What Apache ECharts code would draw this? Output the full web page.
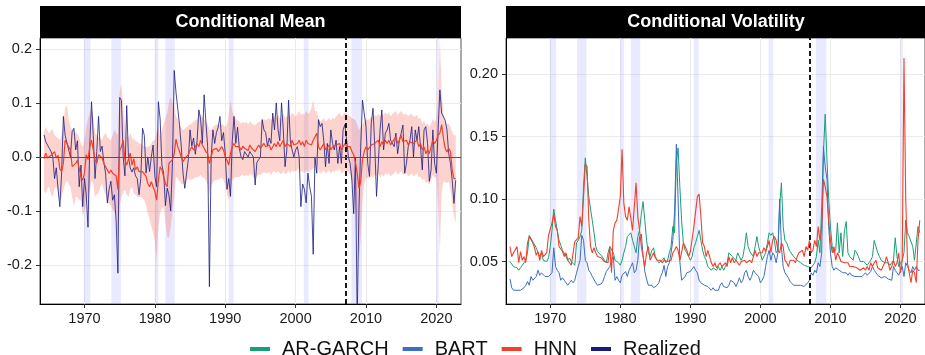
<!DOCTYPE html>
<html>
<head>
<meta charset="utf-8">
<title>Conditional Mean / Conditional Volatility</title>
<script src="https://cdn.jsdelivr.net/npm/echarts@6.0.0/dist/echarts.min.js"></script>
<style>
  html, body { margin: 0; padding: 0; background: #fff; }
  #chart { width: 925px; height: 355px; }
</style>
</head>
<body>
<div id="chart"></div>
<script>
// quarterly observations, first one at 1964.25
const firstQuarter = 1964.25;
const yearTicks = [1970, 1980, 1990, 2000, 2010, 2020];
const meanTicks = [-0.2, -0.1, 0, 0.1, 0.2];
const volTicks = [0.05, 0.10, 0.15, 0.20];
const splitYear = 2007.1;
const recessions = [
  [1969.92, 1970.83], [1973.83, 1975.17], [1980.0, 1980.5], [1981.5, 1982.83],
  [1990.5, 1991.17], [2001.17, 2001.83], [2007.92, 2009.42], [2020.0, 2020.33]
];

// Conditional mean panel
const realized = [
  0.041, 0.028, 0.022,
  0.016, 0.010, 0.000, -0.040,
  -0.020, -0.060, -0.092, -0.030,
  0.075, 0.040, 0.038, 0.013,
  0.000, 0.047, 0.053, 0.013,
  0.030, -0.055, -0.015, -0.092,
  -0.040, -0.070, -0.130, 0.020,
  0.102, 0.040, -0.040, 0.010,
  0.075, 0.010, 0.020, -0.010,
  -0.030, -0.085, -0.060, -0.045,
  -0.080, -0.070, -0.120, -0.215,
  0.110, 0.105, 0.000, -0.035,
  0.095, 0.000, -0.020, -0.028,
  -0.020, -0.035, -0.040, -0.070,
  -0.040, 0.053, 0.040, -0.030,
  0.000, -0.027, 0.000, 0.022,
  -0.036, -0.055, 0.102, 0.070,
  -0.015, -0.030, -0.090, -0.058,
  -0.070, -0.100, -0.010, 0.160,
  0.120, 0.090, 0.060, 0.020,
  -0.030, -0.058, -0.055, -0.005,
  0.050, 0.020, 0.035, 0.005,
  0.030, 0.087, 0.070, 0.025,
  0.115, 0.065, 0.020, -0.240,
  0.000, 0.050, 0.025, 0.045,
  0.055, 0.075, 0.030, 0.045,
  0.006, -0.060, -0.040, -0.073,
  0.030, 0.075, 0.025, 0.055,
  0.016, 0.000, -0.005, 0.010,
  0.013, 0.000, 0.010, 0.005,
  0.000, -0.052, -0.010, -0.005,
  0.000, 0.069, 0.050, 0.045,
  0.020, 0.035, 0.025, 0.081,
  0.050, 0.100, 0.050, 0.030,
  0.100, 0.050, -0.018, 0.013,
  0.105, 0.030, 0.013, 0.000,
  0.013, 0.019, 0.000, -0.092,
  -0.050, -0.060, -0.085, -0.030,
  -0.055, -0.073, -0.180, 0.000,
  -0.030, 0.069, 0.056, 0.062,
  0.030, -0.018, 0.025, -0.012,
  0.050, 0.025, 0.013, 0.031,
  -0.012, 0.019, -0.012, 0.050,
  0.060, 0.031, 0.000, -0.012,
  -0.043, -0.105, 0.000, -0.300,
  -0.098, 0.019, 0.105, 0.102,
  0.056, -0.012, -0.036, 0.062,
  0.090, 0.019, -0.073, -0.012,
  0.050, 0.087, 0.013, 0.044,
  0.050, 0.062, 0.031, 0.031,
  0.019, 0.044, 0.006, 0.031,
  0.044, 0.059, -0.030, -0.012,
  0.019, 0.031, 0.056, 0.000,
  0.050, 0.031, 0.056, 0.019,
  -0.024, 0.050, 0.056, 0.025,
  -0.045, -0.024, 0.050, -0.012,
  -0.030, 0.050, 0.124, 0.081,
  0.080, 0.068, 0.050, 0.007,
  -0.012, -0.043, -0.086, -0.043
];
const hnnMean = [
  -0.003, 0.007, -0.002,
  0.000, 0.003, 0.000, 0.010,
  -0.002, 0.003, -0.022, -0.027,
  -0.012, 0.031, 0.025, 0.019,
  0.013, -0.018, -0.018, -0.012,
  -0.006, -0.021, -0.036, -0.043,
  -0.030, 0.004, -0.005, 0.019,
  0.031, 0.031, -0.005, -0.012,
  0.004, 0.006, -0.002, -0.012,
  -0.009, -0.024, -0.030, -0.024,
  -0.030, -0.030, -0.035, -0.060,
  0.012, 0.019, 0.031, -0.005,
  -0.015, -0.018, 0.007, -0.015,
  -0.003, -0.024, -0.018, -0.027,
  -0.030, -0.027, -0.027, -0.036,
  -0.049, -0.055, -0.046, -0.055,
  -0.064, -0.080, -0.043, -0.018,
  -0.024, -0.024, -0.049, -0.055,
  -0.012, -0.009, -0.005, 0.006,
  0.033, 0.019, 0.010, 0.000,
  -0.009, -0.003, 0.000, 0.004,
  0.013, 0.019, 0.013, 0.019,
  0.025, 0.019, 0.031, 0.022,
  0.019, 0.010, 0.006, -0.012,
  0.000, 0.013, 0.010, 0.016,
  0.010, 0.007, 0.019, 0.013,
  0.000, -0.006, -0.015, 0.007,
  0.019, 0.025, 0.019, 0.016,
  0.019, 0.013, 0.020, 0.016,
  0.019, 0.012, 0.022, 0.016,
  0.019, 0.010, 0.013, 0.022,
  0.016, 0.019, 0.025, 0.019,
  0.016, 0.022, 0.013, 0.019,
  0.025, 0.019, 0.028, 0.019,
  0.022, 0.031, 0.019, 0.025,
  0.028, 0.019, 0.031, 0.022,
  0.019, 0.025, 0.031, 0.022,
  0.028, 0.019, 0.031, 0.025,
  0.028, 0.022, 0.031, 0.028,
  0.044, 0.019, 0.013, 0.019,
  0.025, 0.013, 0.016, 0.022,
  0.013, 0.019, 0.016, 0.022,
  0.019, 0.025, 0.013, 0.019,
  0.025, 0.019, 0.016, 0.019,
  0.010, 0.004, -0.010, -0.030,
  -0.058, -0.045, -0.005, 0.010,
  0.019, 0.013, 0.016, 0.022,
  0.019, 0.025, 0.022, 0.031,
  0.019, 0.028, 0.022, 0.031,
  0.025, 0.031, 0.022, 0.028,
  0.031, 0.037, 0.025, 0.031,
  0.040, 0.028, 0.028, 0.031,
  0.022, 0.028, 0.031, 0.025,
  0.028, 0.031, 0.019, 0.025,
  0.013, 0.019, 0.006, 0.013,
  0.006, 0.019, 0.031, 0.025,
  0.031, 0.040, 0.044, 0.060,
  0.035, 0.016, 0.009, 0.016,
  0.010, -0.024, -0.040, -0.040
];
const bandHi = [
  0.045, 0.056, 0.048,
  0.044, 0.050, 0.050, 0.040,
  0.037, 0.035, 0.031, 0.040,
  0.062, 0.090, 0.096, 0.070,
  0.056, 0.050, 0.050, 0.044,
  0.044, 0.035, 0.025, 0.019,
  0.030, 0.056, 0.070, 0.081,
  0.090, 0.075, 0.044, 0.040,
  0.037, 0.035, 0.031, 0.040,
  0.044, 0.037, 0.033, 0.031,
  0.040, 0.050, 0.045, 0.040,
  0.120, 0.136, 0.093, 0.060,
  0.037, 0.035, 0.045, 0.035,
  0.033, 0.030, 0.028, 0.025,
  0.025, 0.022, 0.020, 0.019,
  0.019, 0.020, 0.025, 0.031,
  0.031, 0.045, 0.056, 0.037,
  0.050, 0.062, 0.070, 0.081,
  0.100, 0.111, 0.100, 0.093,
  0.075, 0.070, 0.060, 0.055,
  0.050, 0.052, 0.055, 0.058,
  0.060, 0.062, 0.065, 0.068,
  0.070, 0.075, 0.080, 0.075,
  0.070, 0.065, 0.060, 0.050,
  0.050, 0.055, 0.058, 0.060,
  0.060, 0.058, 0.062, 0.058,
  0.055, 0.060, 0.080, 0.105,
  0.085, 0.075, 0.070, 0.068,
  0.065, 0.062, 0.065, 0.062,
  0.065, 0.060, 0.065, 0.062,
  0.060, 0.058, 0.062, 0.065,
  0.065, 0.068, 0.070, 0.068,
  0.070, 0.072, 0.068, 0.072,
  0.075, 0.072, 0.078, 0.072,
  0.070, 0.080, 0.072, 0.075,
  0.080, 0.075, 0.082, 0.078,
  0.075, 0.080, 0.085, 0.078,
  0.080, 0.078, 0.085, 0.080,
  0.082, 0.090, 0.105, 0.085,
  0.085, 0.070, 0.065, 0.068,
  0.072, 0.065, 0.068, 0.072,
  0.068, 0.072, 0.070, 0.075,
  0.078, 0.082, 0.075, 0.078,
  0.082, 0.080, 0.078, 0.075,
  0.072, 0.070, 0.068, 0.060,
  0.050, 0.055, 0.060, 0.065,
  0.070, 0.068, 0.070, 0.075,
  0.072, 0.078, 0.075, 0.080,
  0.075, 0.080, 0.078, 0.082,
  0.078, 0.082, 0.075, 0.080,
  0.082, 0.085, 0.078, 0.082,
  0.085, 0.080, 0.078, 0.080,
  0.075, 0.078, 0.080, 0.075,
  0.075, 0.078, 0.070, 0.072,
  0.062, 0.068, 0.058, 0.062,
  0.055, 0.062, 0.070, 0.065,
  0.070, 0.110, 0.220, 0.120,
  0.080, 0.065, 0.060, 0.062,
  0.055, 0.045, 0.040, 0.040
];
const bandLo = [
  -0.062, -0.068, -0.058,
  -0.055, -0.070, -0.073, -0.058,
  -0.055, -0.065, -0.080, -0.075,
  -0.061, -0.050, -0.043, -0.050,
  -0.055, -0.075, -0.092, -0.074,
  -0.074, -0.080, -0.080, -0.110,
  -0.100, -0.086, -0.070, -0.061,
  -0.043, -0.050, -0.074, -0.070,
  -0.067, -0.055, -0.049, -0.061,
  -0.070, -0.086, -0.086, -0.090,
  -0.098, -0.100, -0.110, -0.155,
  -0.090, -0.074, -0.065, -0.061,
  -0.070, -0.074, -0.060, -0.055,
  -0.067, -0.070, -0.074, -0.074,
  -0.074, -0.077, -0.080, -0.090,
  -0.104, -0.115, -0.129, -0.140,
  -0.154, -0.190, -0.130, -0.104,
  -0.095, -0.092, -0.120, -0.148,
  -0.150, -0.129, -0.100, -0.074,
  -0.037, -0.040, -0.045, -0.050,
  -0.050, -0.048, -0.045, -0.040,
  -0.042, -0.043, -0.040, -0.038,
  -0.038, -0.036, -0.033, -0.038,
  -0.038, -0.043, -0.052, -0.070,
  -0.052, -0.048, -0.043, -0.042,
  -0.042, -0.040, -0.038, -0.043,
  -0.052, -0.066, -0.080, -0.066,
  -0.043, -0.038, -0.038, -0.037,
  -0.037, -0.035, -0.033, -0.036,
  -0.033, -0.036, -0.030, -0.033,
  -0.038, -0.040, -0.036, -0.033,
  -0.033, -0.030, -0.028, -0.030,
  -0.030, -0.028, -0.033, -0.028,
  -0.026, -0.030, -0.026, -0.030,
  -0.032, -0.026, -0.032, -0.030,
  -0.025, -0.030, -0.025, -0.027,
  -0.026, -0.024, -0.021, -0.028,
  -0.026, -0.031, -0.024, -0.028,
  -0.026, -0.024, -0.021, -0.020,
  -0.010, -0.026, -0.031, -0.028,
  -0.024, -0.031, -0.028, -0.024,
  -0.031, -0.026, -0.028, -0.024,
  -0.026, -0.021, -0.031, -0.028,
  -0.024, -0.026, -0.028, -0.031,
  -0.045, -0.065, -0.095, -0.125,
  -0.190, -0.150, -0.085, -0.050,
  -0.038, -0.040, -0.038, -0.036,
  -0.038, -0.033, -0.036, -0.030,
  -0.038, -0.033, -0.036, -0.030,
  -0.033, -0.030, -0.036, -0.033,
  -0.030, -0.026, -0.033, -0.030,
  -0.026, -0.033, -0.033, -0.030,
  -0.036, -0.033, -0.030, -0.036,
  -0.033, -0.030, -0.038, -0.036,
  -0.043, -0.040, -0.048, -0.046,
  -0.052, -0.043, -0.033, -0.038,
  -0.038, -0.085, -0.178, -0.065,
  -0.046, -0.046, -0.048, -0.046,
  -0.060, -0.085, -0.110, -0.122
];

// Conditional volatility panel
const garchVol = [
  0.050, 0.049, 0.046,
  0.046, 0.045, 0.043, 0.045,
  0.046, 0.049, 0.051, 0.057,
  0.071, 0.070, 0.066, 0.065,
  0.061, 0.057, 0.054, 0.057,
  0.051, 0.050, 0.050, 0.053,
  0.062, 0.075, 0.092, 0.083,
  0.075, 0.067, 0.063, 0.059,
  0.058, 0.054, 0.051, 0.053,
  0.050, 0.049, 0.047, 0.065,
  0.067, 0.070, 0.075, 0.110,
  0.133, 0.118, 0.102, 0.092,
  0.083, 0.073, 0.062, 0.058,
  0.057, 0.055, 0.054, 0.051,
  0.049, 0.057, 0.062, 0.063,
  0.057, 0.051, 0.051, 0.049,
  0.047, 0.051, 0.057, 0.062,
  0.070, 0.071, 0.073, 0.067,
  0.062, 0.057, 0.070, 0.075,
  0.088, 0.098, 0.083, 0.067,
  0.057, 0.054, 0.059, 0.061,
  0.054, 0.051, 0.049, 0.050,
  0.051, 0.053, 0.049, 0.051,
  0.057, 0.062, 0.078, 0.073,
  0.130, 0.141, 0.110, 0.083,
  0.065, 0.059, 0.057, 0.054,
  0.051, 0.054, 0.061, 0.065,
  0.070, 0.075, 0.067, 0.059,
  0.054, 0.051, 0.046, 0.045,
  0.043, 0.045, 0.044, 0.043,
  0.046, 0.043, 0.046, 0.043,
  0.046, 0.049, 0.057, 0.058,
  0.054, 0.055, 0.051, 0.057,
  0.058, 0.051, 0.054, 0.062,
  0.073, 0.062, 0.058, 0.057,
  0.054, 0.062, 0.070, 0.062,
  0.057, 0.051, 0.050, 0.057,
  0.065, 0.073, 0.071, 0.073,
  0.067, 0.057, 0.059, 0.095,
  0.113, 0.078, 0.067, 0.065,
  0.061, 0.058, 0.057, 0.054,
  0.053, 0.051, 0.050, 0.049,
  0.048, 0.047, 0.047, 0.046,
  0.046, 0.045, 0.046, 0.049,
  0.054, 0.067, 0.057, 0.094,
  0.137, 0.168, 0.132, 0.100,
  0.078, 0.062, 0.057, 0.059,
  0.081, 0.057, 0.073, 0.054,
  0.075, 0.082, 0.057, 0.054,
  0.054, 0.051, 0.059, 0.057,
  0.054, 0.050, 0.051, 0.050,
  0.049, 0.047, 0.046, 0.051,
  0.054, 0.067, 0.062, 0.057,
  0.054, 0.051, 0.050, 0.049,
  0.050, 0.049, 0.047, 0.049,
  0.051, 0.069, 0.054, 0.046,
  0.049, 0.051, 0.057, 0.083,
  0.073, 0.070, 0.069, 0.062,
  0.051, 0.051, 0.078, 0.073
];
const bartVol = [
  0.036, 0.029, 0.027,
  0.027, 0.027, 0.026, 0.027,
  0.027, 0.029, 0.031, 0.034,
  0.031, 0.038, 0.035, 0.034,
  0.038, 0.043, 0.039, 0.041,
  0.041, 0.038, 0.039, 0.038,
  0.037, 0.041, 0.061, 0.046,
  0.043, 0.041, 0.035, 0.037,
  0.035, 0.033, 0.031, 0.033,
  0.035, 0.033, 0.035, 0.041,
  0.046, 0.051, 0.071, 0.067,
  0.051, 0.049, 0.043, 0.041,
  0.038, 0.037, 0.033, 0.031,
  0.031, 0.032, 0.034, 0.038,
  0.042, 0.042, 0.046, 0.051,
  0.054, 0.035, 0.038, 0.035,
  0.033, 0.039, 0.038, 0.042,
  0.038, 0.043, 0.046, 0.049,
  0.041, 0.043, 0.051, 0.070,
  0.072, 0.055, 0.042, 0.036,
  0.031, 0.030, 0.031, 0.029,
  0.030, 0.031, 0.033, 0.038,
  0.041, 0.047, 0.038, 0.046,
  0.049, 0.057, 0.067, 0.090,
  0.144, 0.100, 0.050, 0.035,
  0.034, 0.038, 0.041, 0.041,
  0.042, 0.043, 0.046, 0.043,
  0.041, 0.035, 0.033, 0.033,
  0.031, 0.030, 0.030, 0.029,
  0.027, 0.029, 0.027, 0.027,
  0.027, 0.031, 0.033, 0.030,
  0.030, 0.029, 0.031, 0.035,
  0.034, 0.033, 0.030, 0.033,
  0.037, 0.033, 0.035, 0.041,
  0.043, 0.038, 0.035, 0.038,
  0.043, 0.041, 0.042, 0.038,
  0.033, 0.035, 0.038, 0.046,
  0.054, 0.059, 0.051, 0.057,
  0.055, 0.049, 0.057, 0.100,
  0.062, 0.046, 0.041, 0.039,
  0.037, 0.034, 0.033, 0.031,
  0.030, 0.031, 0.030, 0.031,
  0.031, 0.030, 0.031, 0.033,
  0.035, 0.041, 0.039, 0.043,
  0.041, 0.049, 0.046, 0.057,
  0.142, 0.126, 0.116, 0.078,
  0.057, 0.046, 0.043, 0.045,
  0.046, 0.043, 0.042, 0.041,
  0.042, 0.041, 0.039, 0.041,
  0.039, 0.038, 0.038, 0.039,
  0.038, 0.037, 0.038, 0.037,
  0.041, 0.039, 0.038, 0.042,
  0.046, 0.043, 0.041, 0.039,
  0.038, 0.037, 0.037, 0.038,
  0.037, 0.036, 0.037, 0.035,
  0.046, 0.043, 0.041, 0.039,
  0.043, 0.046, 0.038, 0.049,
  0.046, 0.043, 0.041, 0.046,
  0.043, 0.046, 0.043, 0.043
];
const hnnVol = [
  0.062, 0.054, 0.057,
  0.058, 0.062, 0.049, 0.058,
  0.051, 0.054, 0.049, 0.065,
  0.070, 0.069, 0.065, 0.061,
  0.055, 0.058, 0.051, 0.059,
  0.054, 0.053, 0.057, 0.071,
  0.071, 0.081, 0.088, 0.078,
  0.075, 0.062, 0.063, 0.058,
  0.054, 0.057, 0.051, 0.049,
  0.047, 0.046, 0.066, 0.067,
  0.069, 0.086, 0.078, 0.102,
  0.128, 0.126, 0.083, 0.062,
  0.057, 0.061, 0.057, 0.054,
  0.055, 0.053, 0.054, 0.050,
  0.051, 0.049, 0.062, 0.041,
  0.075, 0.081, 0.083, 0.092,
  0.102, 0.140, 0.097, 0.086,
  0.083, 0.094, 0.093, 0.075,
  0.094, 0.113, 0.086, 0.075,
  0.062, 0.054, 0.046, 0.057,
  0.062, 0.051, 0.054, 0.057,
  0.053, 0.051, 0.050, 0.051,
  0.049, 0.051, 0.051, 0.050,
  0.051, 0.051, 0.057, 0.059,
  0.062, 0.059, 0.051, 0.057,
  0.065, 0.062, 0.059, 0.054,
  0.058, 0.057, 0.078, 0.078,
  0.102, 0.104, 0.086, 0.065,
  0.062, 0.054, 0.059, 0.054,
  0.049, 0.046, 0.049, 0.045,
  0.046, 0.049, 0.046, 0.045,
  0.049, 0.046, 0.054, 0.049,
  0.053, 0.049, 0.051, 0.049,
  0.047, 0.050, 0.049, 0.051,
  0.049, 0.050, 0.051, 0.049,
  0.054, 0.059, 0.054, 0.057,
  0.058, 0.057, 0.061, 0.058,
  0.062, 0.067, 0.057, 0.067,
  0.070, 0.067, 0.059, 0.057,
  0.065, 0.062, 0.051, 0.049,
  0.046, 0.051, 0.050, 0.051,
  0.049, 0.054, 0.057, 0.057,
  0.059, 0.054, 0.062, 0.059,
  0.067, 0.057, 0.059, 0.067,
  0.062, 0.078, 0.067, 0.078,
  0.116, 0.110, 0.102, 0.083,
  0.067, 0.057, 0.062, 0.051,
  0.057, 0.054, 0.050, 0.051,
  0.049, 0.050, 0.049, 0.046,
  0.047, 0.046, 0.045, 0.045,
  0.044, 0.043, 0.043, 0.045,
  0.043, 0.046, 0.043, 0.049,
  0.046, 0.049, 0.051, 0.045,
  0.046, 0.043, 0.042, 0.049,
  0.054, 0.049, 0.043, 0.046,
  0.051, 0.046, 0.049, 0.057,
  0.041, 0.051, 0.213, 0.100,
  0.049, 0.041, 0.033, 0.043,
  0.041, 0.033, 0.067, 0.083
];

const dates = realized.map((_, i) => firstQuarter + i * 0.25);
const pairs = arr => arr.map((v, i) => [dates[i], v]);

const font = '"Liberation Sans", Arial, Helvetica, sans-serif';
const colors = { garch: '#17a077', bart: '#3b6fc3', hnn: '#f43f2b', realized: '#1b1b7d' };

function xAxisFor(gridIndex) {
  return {
    type: 'value', gridIndex: gridIndex, min: 1963.68, max: 2023.5,
    axisLine: { show: true, onZero: false, lineStyle: { color: '#000', width: 1 } },
    axisTick: { show: true, length: 4, customValues: yearTicks, lineStyle: { color: '#333' } },
    axisLabel: { customValues: yearTicks, formatter: v => String(Math.round(v)), color: '#1a1a1a',
      fontSize: 14.5, margin: 7, fontFamily: font },
    splitLine: { show: true, lineStyle: { color: '#ebebeb', width: 1 } }
  };
}
function yAxisFor(gridIndex, min, max, ticks, digits) {
  return {
    type: 'value', gridIndex: gridIndex, min: min, max: max,
    axisLine: { show: true, onZero: false, lineStyle: { color: '#000', width: 1 } },
    axisTick: { show: true, length: 4, customValues: ticks, lineStyle: { color: '#333' } },
    axisLabel: { customValues: ticks, formatter: v => v.toFixed(digits), color: '#1a1a1a',
      fontSize: 14.5, margin: 8, fontFamily: font },
    splitLine: { show: true, lineStyle: { color: '#ebebeb', width: 1 } }
  };
}
function recessionSeries(idx) {
  return {
    type: 'custom', xAxisIndex: idx, yAxisIndex: idx, silent: true, z: 1,
    data: recessions,
    renderItem: function (params, api) {
      const cs = params.coordSys;
      const x0 = api.coord([api.value(0), 0])[0];
      const x1 = api.coord([api.value(1), 0])[0];
      return { type: 'rect', shape: { x: x0, y: cs.y, width: x1 - x0, height: cs.height },
        style: { fill: 'rgba(120,120,255,0.16)' } };
    }
  };
}
function lineSeries(name, values, color, width, idx, z) {
  return {
    name: name, type: 'line', xAxisIndex: idx, yAxisIndex: idx, data: pairs(values),
    showSymbol: false, symbol: 'none', color: color, z: z,
    lineStyle: { color: color, width: width }, emphasis: { disabled: true }
  };
}
const dashed = { xAxis: splitYear, lineStyle: { color: '#000', type: [5, 3], width: 1.8 } };

const realizedSeries = lineSeries('Realized', realized, colors.realized, 0.8, 0, 3);
realizedSeries.markLine = {
  silent: true, symbol: 'none', label: { show: false }, animation: false,
  data: [dashed, { yAxis: 0, lineStyle: { color: '#555', type: 'solid', width: 1 } }]
};
const garchSeries = lineSeries('AR-GARCH', garchVol, colors.garch, 1, 1, 3);
garchSeries.markLine = {
  silent: true, symbol: 'none', label: { show: false }, animation: false, data: [dashed]
};

const option = {
  animation: false,
  backgroundColor: '#fff',
  grid: [
    { left: 40, top: 38, width: 421, height: 266, show: true, borderColor: '#555', borderWidth: 1 },
    { left: 506, top: 38, width: 421, height: 266, show: true, borderColor: '#555', borderWidth: 1 }
  ],
  xAxis: [xAxisFor(0), xAxisFor(1)],
  yAxis: [
    yAxisFor(0, -0.272, 0.22, meanTicks, 1),
    yAxisFor(1, 0.016, 0.229, volTicks, 2)
  ],
  graphic: [
    { type: 'rect', shape: { x: 40, y: 6, width: 421, height: 32 }, style: { fill: '#000' } },
    { type: 'text', x: 250.5, y: 22, style: { text: 'Conditional Mean', fill: '#fff',
      font: 'bold 18px ' + font, align: 'center', verticalAlign: 'middle' } },
    { type: 'rect', shape: { x: 506, y: 6, width: 421, height: 32 }, style: { fill: '#000' } },
    { type: 'text', x: 716, y: 22, style: { text: 'Conditional Volatility', fill: '#fff',
      font: 'bold 18px ' + font, align: 'center', verticalAlign: 'middle' } }
  ],
  legend: {
    data: ['AR-GARCH', 'BART', 'HNN', 'Realized'],
    left: 245, top: 334, icon: 'rect', itemWidth: 20, itemHeight: 4, itemGap: 14,
    selectedMode: false,
    textStyle: { fontSize: 20, color: '#111', fontFamily: font, padding: [0, 0, 0, 7] }
  },
  series: [
    recessionSeries(0),
    {
      type: 'custom', xAxisIndex: 0, yAxisIndex: 0, silent: true, z: 2,
      data: [[dates[0], 0]],
      renderItem: function (params, api) {
        const pts = [];
        for (let i = 0; i < dates.length; i++) pts.push(api.coord([dates[i], bandHi[i]]));
        for (let i = dates.length - 1; i >= 0; i--) pts.push(api.coord([dates[i], bandLo[i]]));
        return { type: 'polygon', shape: { points: pts }, style: { fill: 'rgba(244,80,60,0.25)' } };
      }
    },
    realizedSeries,
    lineSeries('HNN', hnnMean, colors.hnn, 1.2, 0, 4),
    recessionSeries(1),
    garchSeries,
    lineSeries('BART', bartVol, colors.bart, 1, 1, 4),
    lineSeries('HNN', hnnVol, colors.hnn, 1.1, 1, 5)
  ]
};

const chart = echarts.init(document.getElementById('chart'), null, { renderer: 'canvas' });
chart.setOption(option);
</script>
</body>
</html>
